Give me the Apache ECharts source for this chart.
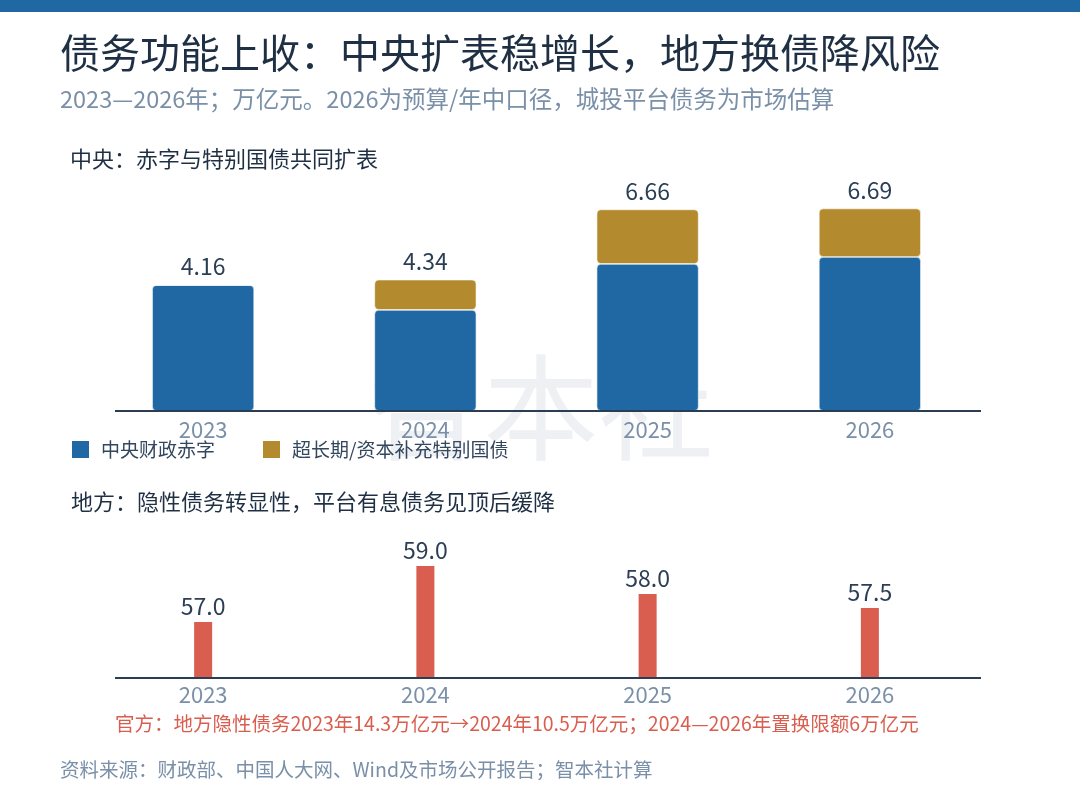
<!DOCTYPE html>
<html>
<head>
<meta charset="utf-8">
<script src="https://cdn.jsdelivr.net/npm/echarts@6/dist/echarts.min.js"></script>
<style>
  html, body { margin: 0; padding: 0; background: #fff; }
  #main { width: 1080px; height: 810px; }
</style>
</head>
<body>
<div id="main"></div>
<script>
// 数据
const years = ['2023', '2024', '2025', '2026'];
const deficit = [4.16, 3.34, 4.86, 5.09];      // 中央财政赤字
const specialBond = [0, 1.00, 1.80, 1.60];     // 超长期/资本补充特别国债
const centralTotal = [4.16, 4.34, 6.66, 6.69];
const lgfvDebt = [57.0, 59.0, 58.0, 57.5];     // 城投平台有息债务（市场估算）

const FONT = '"Noto Sans CJK SC", "Noto Sans", sans-serif';
const BLUE = '#2068a3';
const GOLD = '#b38a2e';
const RED = '#d95e4f';
const NAVY = '#1f2f44';
const GREY = '#7a8fa8';
const AXIS = '#2b3d52';

// 两个图的 grid（像素）
const TOP_GRID = { left: 92, right: 99, top: 184, bottom: 399 };
const BOT_GRID = { left: 92, right: 99, top: 538, bottom: 132 };
// 底线比 grid 左边稍短一些
const LINE_X0 = 115, LINE_X1 = 981;

const chart = echarts.init(document.getElementById('main'));

// 标题文字统一去掉默认 padding
const txt = (text, left, top, size, color) => ({
  text, left, top, padding: 0,
  textStyle: { fontSize: size, fontWeight: 'normal', color, fontFamily: FONT }
});

const baseLine = y => ({
  type: 'line', z: 5, silent: true,
  shape: { x1: LINE_X0, y1: y, x2: LINE_X1, y2: y },
  style: { stroke: AXIS, lineWidth: 2 }
});

const option = {
  backgroundColor: '#fff',
  textStyle: { fontFamily: FONT },
  title: [
    txt('债务功能上收：中央扩表稳增长，地方换债降风险', 60, 33, 40, NAVY),
    txt('2023—2026年；万亿元。2026为预算/年中口径，城投平台债务为市场估算', 60, 87, 23.5, GREY),
    txt('中央：赤字与特别国债共同扩表', 70, 148, 22, NAVY),
    txt('地方：隐性债务转显性，平台有息债务见顶后缓降', 71, 491, 22, NAVY),
    txt('官方：地方隐性债务2023年14.3万亿元→2024年10.5万亿元；2024—2026年置换限额6万亿元', 115, 714, 19.5, RED),
    txt('资料来源：财政部、中国人大网、Wind及市场公开报告；智本社计算', 60, 760, 19.5, GREY)
  ],
  graphic: [
    { type: 'rect', left: 0, top: 0, shape: { width: 1080, height: 12 }, style: { fill: BLUE }, z: 10 },
    { type: 'text', x: 541, y: 407, z: -10, silent: true,
      style: { text: '智本社', fontSize: 115, fontFamily: FONT, fill: '#eef0f3',
               textAlign: 'center', textVerticalAlign: 'middle' } },
    baseLine(810 - TOP_GRID.bottom),
    baseLine(810 - BOT_GRID.bottom)
  ],
  legend: {
    data: ['中央财政赤字', '超长期/资本补充特别国债'],
    left: 70, top: 439, padding: 0,
    icon: 'rect', itemWidth: 19, itemHeight: 19, itemGap: 46,
    textStyle: { fontSize: 19, color: '#33475e', fontFamily: FONT, padding: [0, 0, 0, 6] }
  },
  grid: [TOP_GRID, BOT_GRID],
  xAxis: [
    { type: 'category', gridIndex: 0, data: years,
      axisLine: { show: false }, axisTick: { show: false },
      axisLabel: { fontSize: 22, color: GREY, margin: 8, fontFamily: FONT } },
    { type: 'category', gridIndex: 1, data: years,
      axisLine: { show: false }, axisTick: { show: false },
      axisLabel: { fontSize: 22, color: GREY, margin: 6, fontFamily: FONT } }
  ],
  yAxis: [
    { type: 'value', gridIndex: 0, min: 0, max: 7.5, show: false, splitLine: { show: false } },
    { type: 'value', gridIndex: 1, min: 55, max: 60, show: false, splitLine: { show: false } }
  ],
  series: [
    { name: '中央财政赤字', type: 'bar', stack: 'c', xAxisIndex: 0, yAxisIndex: 0,
      data: deficit, barWidth: 102,
      itemStyle: { color: BLUE, borderRadius: 4, borderColor: '#fff', borderWidth: 0.6 } },
    { name: '超长期/资本补充特别国债', type: 'bar', stack: 'c', xAxisIndex: 0, yAxisIndex: 0,
      data: specialBond, barWidth: 102,
      itemStyle: { color: GOLD, borderRadius: 4, borderColor: '#fff', borderWidth: 0.6 },
      label: { show: true, position: 'top', distance: 7, fontSize: 23, color: '#2c3e55', fontFamily: FONT,
               formatter: p => centralTotal[p.dataIndex].toFixed(2) } },
    { name: '城投平台有息债务', type: 'bar', xAxisIndex: 1, yAxisIndex: 1,
      data: lgfvDebt, barWidth: 18,
      itemStyle: { color: RED },
      label: { show: true, position: 'top', distance: 4, fontSize: 23, color: '#2c3e55', fontFamily: FONT,
               formatter: p => p.value.toFixed(1) } }
  ]
};

chart.setOption(option);
</script>
</body>
</html>
